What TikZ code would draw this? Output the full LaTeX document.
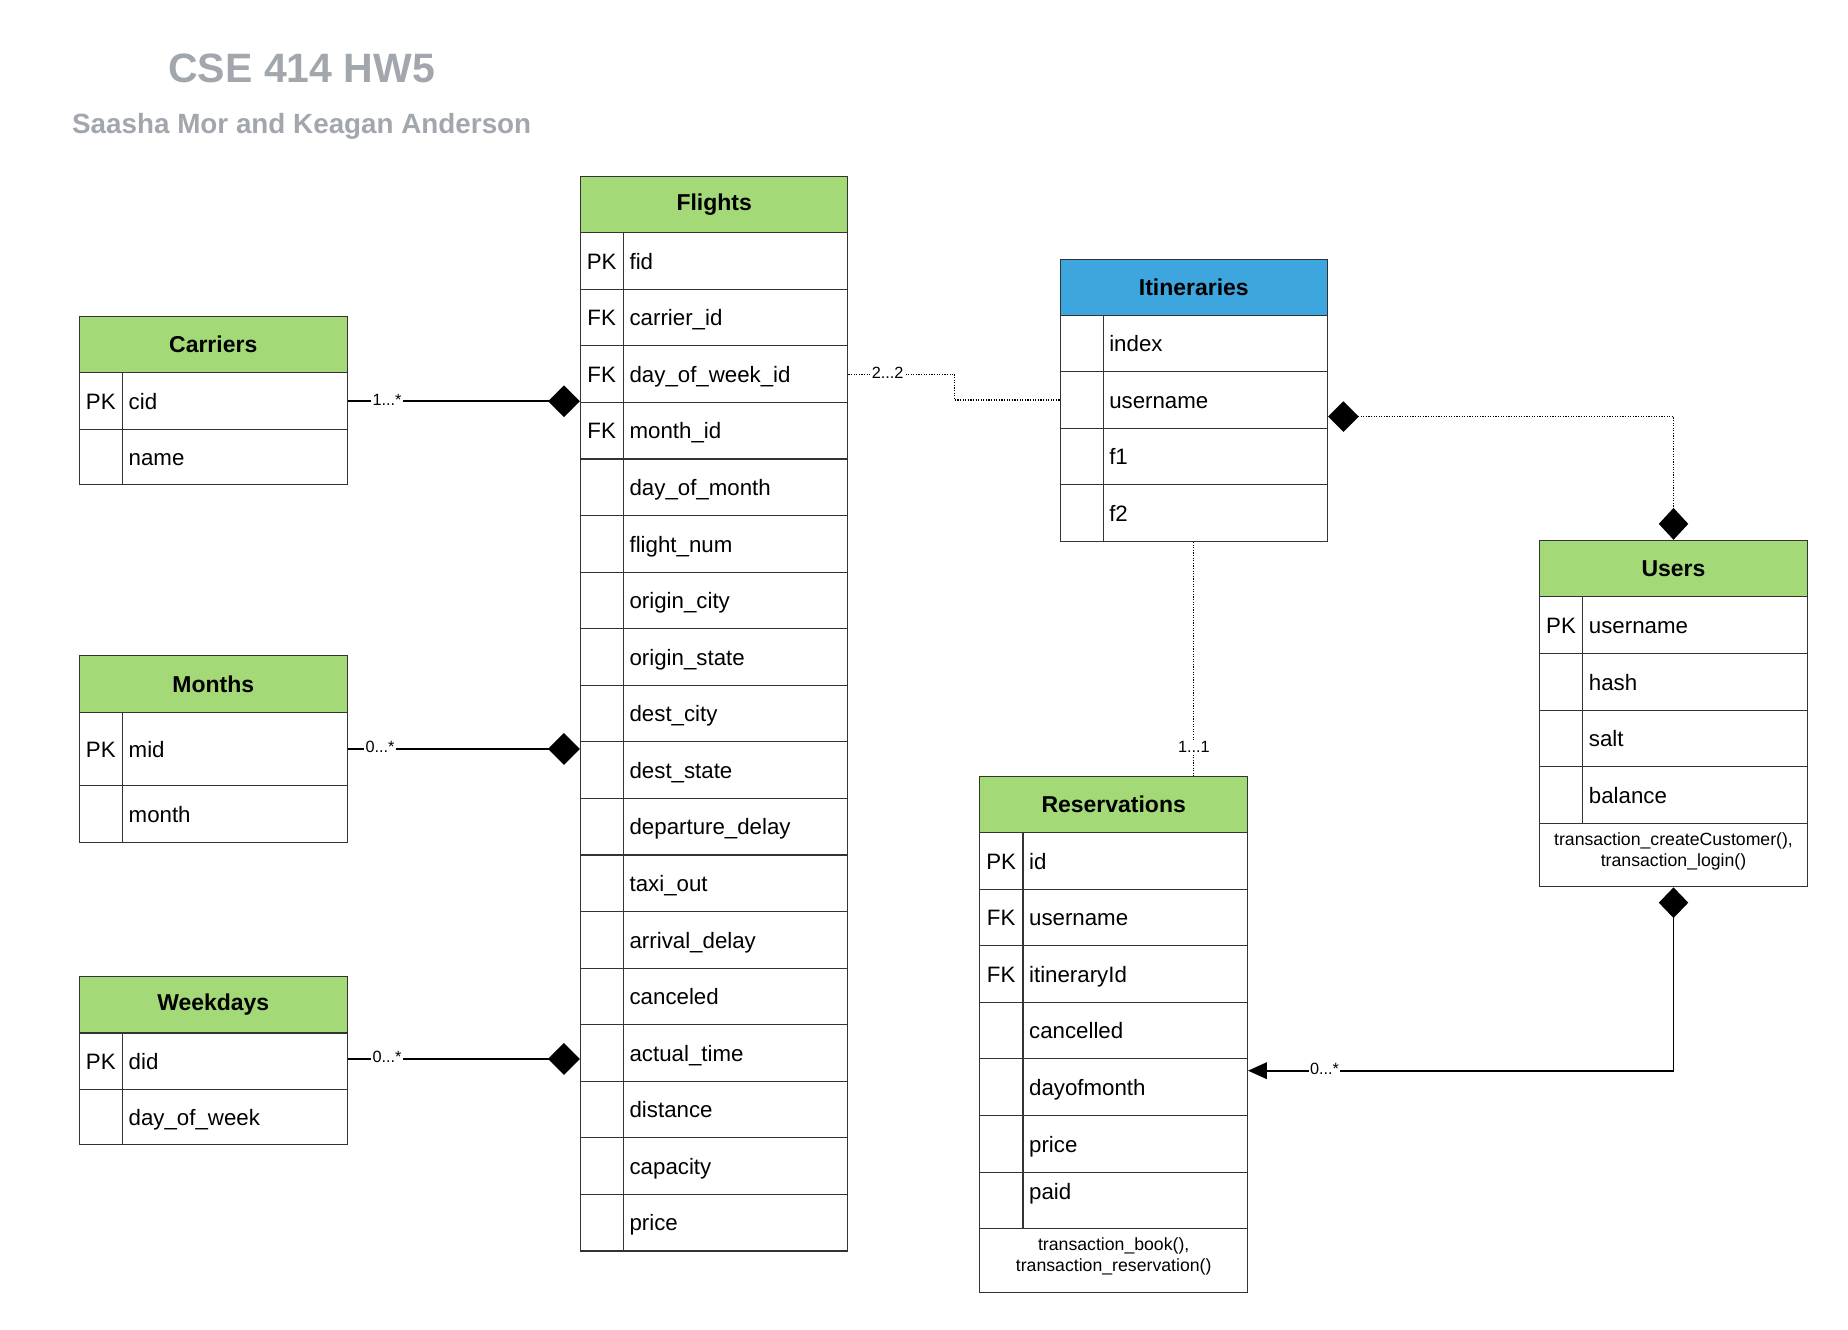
\documentclass[tikz,border=0pt]{standalone}
\usepackage{fontspec}
\setmainfont{Liberation Sans}
\usetikzlibrary{arrows.meta,calc}
\definecolor{hdrgreen}{HTML}{A3D977}
\definecolor{hdrblue}{HTML}{3DA6DE}
\definecolor{linec}{HTML}{333333}
\definecolor{titlegray}{HTML}{A2A6AD}
\newcommand{\rowfnt}{\fontsize{18.9}{22}\selectfont}
\newcommand{\hdrfnt}{\fontsize{19.5}{23}\selectfont\bfseries}
\newcommand{\methfnt}{\fontsize{15}{18}\selectfont}
\newcommand{\lblfnt}{\fontsize{13.8}{16}\selectfont}
\tikzset{
  boxline/.style={draw=linec, line width=0.9pt},
  hdr/.style={boxline, minimum width=227pt, minimum height=48pt, anchor=north west, inner sep=0pt, font=\hdrfnt, text=black},
  rowbox/.style={boxline, minimum width=227pt, anchor=north west, inner sep=0pt},
  keytxt/.style={inner sep=0pt, anchor=base, font=\rowfnt},
  fldtxt/.style={inner sep=0pt, anchor=base west, font=\rowfnt},
  methtxt/.style={inner sep=0pt, anchor=north, font=\methfnt, align=center},
  conn/.style={draw=black, line width=2pt},
  dotconn/.style={draw=black, line width=1pt, dash pattern=on 1pt off 1.2pt},
  lbl/.style={fill=white, inner sep=1pt, font=\lblfnt, text=black, yshift=1.5pt}
}
% #1 name, #2 x, #3 y top, #4 height, #5 key, #6 field
\newcommand{\erow}[6]{%
  \node[rowbox, minimum height=#4pt] (#1) at (#2,#3) {};
  \node[keytxt] (#1k) at ($(#1.west)+(18.5,7)$) {#5};
  \node[fldtxt] (#1f) at ($(#1.west)+(42,7)$) {#6};
}
\begin{document}
\begin{tikzpicture}[x=1pt,y=-1pt]
\useasboundingbox (0,0) rectangle (1568,1128);

% Title
\node[font=\fontsize{34.8}{40}\selectfont\bfseries, text=titlegray, inner sep=0pt] (title) at (256,58) {CSE 414 HW5};
\node[font=\fontsize{23.6}{28}\selectfont\bfseries, text=titlegray, inner sep=0pt] (subtitle) at (256,107) {Saasha Mor and Keagan Anderson};

% Carriers
\node[hdr, fill=hdrgreen] (cr0) at (67,268) {Carriers};
\erow{cr1}{67}{316}{48}{PK}{cid}
\erow{cr2}{67}{364}{47}{}{name}
\draw[boxline] ([xshift=37pt]cr1.north west) -- ([xshift=37pt]cr2.south west);

% Months
\node[hdr, fill=hdrgreen] (mo0) at (67,556) {Months};
\erow{mo1}{67}{604}{62}{PK}{mid}
\erow{mo2}{67}{666}{48}{}{month}
\draw[boxline] ([xshift=37pt]mo1.north west) -- ([xshift=37pt]mo2.south west);

% Weekdays
\node[hdr, fill=hdrgreen] (wd0) at (67,828) {Weekdays};
\erow{wd1}{67}{876}{48}{PK}{did}
\erow{wd2}{67}{924}{47}{}{day\_of\_week}
\draw[boxline] ([xshift=37pt]wd1.north west) -- ([xshift=37pt]wd2.south west);

% Flights
\node[hdr, fill=hdrgreen] (fl0) at (492,149) {Flights};
\erow{fl1}{492}{197}{48}{PK}{fid}
\erow{fl2}{492}{245}{48}{FK}{carrier\_id}
\erow{fl3}{492}{293}{48}{FK}{day\_of\_week\_id}
\erow{fl4}{492}{341}{48}{FK}{month\_id}
\erow{fl5}{492}{389}{48}{}{day\_of\_month}
\erow{fl6}{492}{437}{48}{}{flight\_num}
\erow{fl7}{492}{485}{48}{}{origin\_city}
\erow{fl8}{492}{533}{48}{}{origin\_state}
\erow{fl9}{492}{581}{48}{}{dest\_city}
\erow{fl10}{492}{629}{48}{}{dest\_state}
\erow{fl11}{492}{677}{48}{}{departure\_delay}
\erow{fl12}{492}{725}{48}{}{taxi\_out}
\erow{fl13}{492}{773}{48}{}{arrival\_delay}
\erow{fl14}{492}{821}{48}{}{canceled}
\erow{fl15}{492}{869}{48}{}{actual\_time}
\erow{fl16}{492}{917}{48}{}{distance}
\erow{fl17}{492}{965}{48}{}{capacity}
\erow{fl18}{492}{1013}{48}{}{price}
\draw[boxline] ([xshift=37pt]fl1.north west) -- ([xshift=37pt]fl18.south west);

% Itineraries
\node[hdr, fill=hdrblue, minimum height=47pt] (it0) at (899,220) {Itineraries};
\erow{it1}{899}{267}{48}{}{index}
\erow{it2}{899}{315}{48}{}{username}
\erow{it3}{899}{363}{48}{}{f1}
\erow{it4}{899}{411}{48}{}{f2}
\draw[boxline] ([xshift=37pt]it1.north west) -- ([xshift=37pt]it4.south west);

% Users
\node[hdr, fill=hdrgreen] (us0) at (1306,458) {Users};
\erow{us1}{1306}{506}{48}{PK}{username}
\erow{us2}{1306}{554}{48}{}{hash}
\erow{us3}{1306}{602}{48}{}{salt}
\erow{us4}{1306}{650}{48}{}{balance}
\draw[boxline] ([xshift=37pt]us1.north west) -- ([xshift=37pt]us4.south west);
\node[rowbox, minimum height=54pt] (usm) at (1306,698) {};
\node[methtxt] (usmt) at ($(usm.north)+(0,8)$) {transaction\_createCustomer(),\\transaction\_login()};

% Reservations
\node[hdr, fill=hdrgreen] (re0) at (831,658) {Reservations};
\erow{re1}{831}{706}{48}{PK}{id}
\erow{re2}{831}{754}{48}{FK}{username}
\erow{re3}{831}{802}{48}{FK}{itineraryId}
\erow{re4}{831}{850}{48}{}{cancelled}
\erow{re5}{831}{898}{48}{}{dayofmonth}
\erow{re6}{831}{946}{48}{}{price}
\node[rowbox, minimum height=48pt] (re7) at (831,994) {};
\node[fldtxt] (re7f) at ($(re7.west)+(42,-1)$) {paid};
\draw[boxline] ([xshift=37pt]re1.north west) -- ([xshift=37pt]re7.south west);
\node[rowbox, minimum height=54pt] (rem) at (831,1042) {};
\node[methtxt] (remt) at ($(rem.north)+(0,8)$) {transaction\_book(),\\transaction\_reservation()};

% Connectors
\draw[conn, -{Diamond[length=27pt,width=27pt]}] (cr1.east) -- node[lbl, pos=0.17] {1...*} (cr1.east -| fl1.west);
\draw[conn, -{Diamond[length=27pt,width=27pt]}] (mo1.east) -- node[lbl, pos=0.14] {0...*} (mo1.east -| fl1.west);
\draw[conn, -{Diamond[length=27pt,width=27pt]}] ($(wd1.east)+(0,-2)$) -- node[lbl, pos=0.17] {0...*} ($(wd1.east -| fl1.west)+(0,-2)$);

\draw[dotconn] (fl3.east) -- node[lbl, pos=0.37] {2...2} ++(90,0) |- (it2.west);
\draw[dotconn] (it4.south) -- node[lbl, pos=0.884] {1...1} (it4.south |- re0.north);
\draw[dotconn, {Diamond[length=26pt,width=26pt]}-{Diamond[length=27pt,width=25pt]}] ($(it2.east)+(0,14)$) -| (us0.north);
\draw[conn, line width=1.6pt, {Diamond[length=26pt,width=25pt]}-{Triangle[length=16pt,width=14pt]}] (usm.south) |- node[lbl, pos=0.91] {0...*} ($(re5.east)+(0,-14)$);
\end{tikzpicture}
\end{document}
